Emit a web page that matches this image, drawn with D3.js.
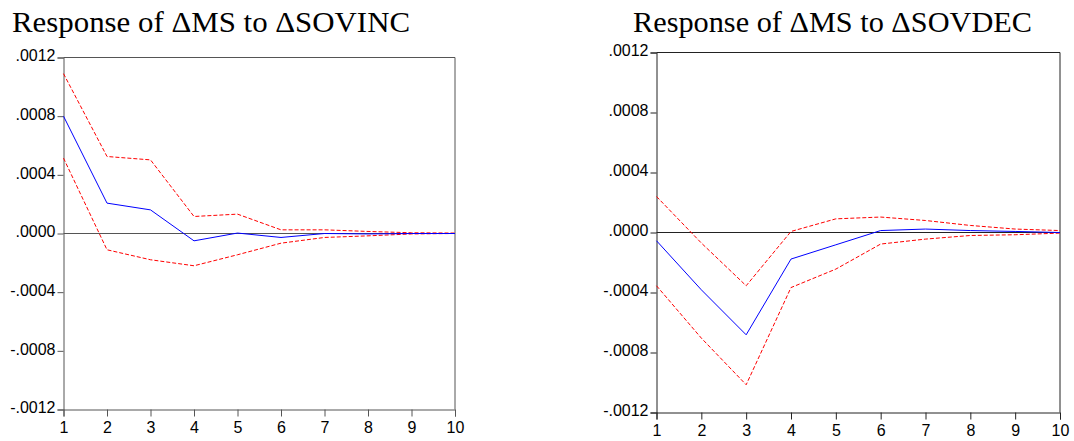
<!DOCTYPE html>
<html>
<head>
<meta charset="utf-8">
<script src="https://cdn.jsdelivr.net/npm/d3@7"></script>
<style>
  body { margin: 0; background: #fff; }
  svg { display: block; }
  .tick text { font-family: "Liberation Sans", Arial, sans-serif; font-size: 16px; fill: #000; }
  .title { font-family: "Liberation Serif", "Times New Roman", serif; font-size: 29px; fill: #000; }
</style>
</head>
<body>
<div class="container"></div>
<script>
// periods after the shock
var steps = [1, 2, 3, 4, 5, 6, 7, 8, 9, 10];
var yTicks = [-0.0012, -0.0008, -0.0004, 0, 0.0004, 0.0008, 0.0012];

// response of dMS to dSOVINC, with the +/- 2 s.e. bands
var incResp  = [0.00080, 0.000207, 0.000161, -0.000050, 0.000003, -0.000027, 0.000000, -0.000003, 0.000000, 0.000000];
var incUpper = [0.00109, 0.000525, 0.000502, 0.000116, 0.000132, 0.000025, 0.000025, 0.000014, 0.000005, 0.000003];
var incLower = [0.000514, -0.000111, -0.000179, -0.000220, -0.000145, -0.000066, -0.000027, -0.000016, -0.000003, 0.000000];

// response of dMS to dSOVDEC
var decResp  = [-0.000055, -0.000382, -0.000682, -0.000177, -0.000082, 0.000013, 0.000023, 0.000013, 0.000007, 0.000000];
var decUpper = [0.000240, -0.000070, -0.000355, 0.000007, 0.000091, 0.000103, 0.000080, 0.000047, 0.000023, 0.000013];
var decLower = [-0.000355, -0.000704, -0.001015, -0.000367, -0.000244, -0.000077, -0.000044, -0.000020, -0.000015, -0.000004];

var svg = d3.select(".container").append("svg").attr("width", 1074).attr("height", 441);

// eviews style labels: ".0008", "-.0004"
function fmt(v) {
  var s = Math.abs(v).toFixed(4).replace(/^0/, "");
  return (v < 0 ? "-" : "") + s;
}

function panel(opts) {
  var x = d3.scaleLinear().domain([1, 10]).range([opts.left, opts.right]);
  var y = d3.scaleLinear().domain([-0.0012, 0.0012]).range([opts.bottom, opts.top]);
  var g = svg.append("g");

  g.append("text").attr("class", "title")
    .attr("x", opts.titleX).attr("y", 32)
    .attr("textLength", opts.titleW).attr("lengthAdjust", "spacingAndGlyphs")
    .text(opts.title);

  // frame (top / right)
  g.append("path")
    .attr("d", "M" + opts.left + "," + opts.top + "H" + opts.right + "V" + opts.bottom)
    .attr("fill", "none").attr("stroke", opts.axisColor).attr("stroke-width", 1);

  var yAxis = g.append("g").attr("transform", "translate(" + opts.left + ",0)")
    .call(d3.axisLeft(y).tickValues(yTicks).tickFormat(fmt).tickSize(6).tickPadding(2));
  var xAxis = g.append("g").attr("transform", "translate(0," + opts.bottom + ")")
    .call(d3.axisBottom(x).tickValues(steps).tickFormat(d3.format("d")).tickSize(7).tickPadding(5));
  [yAxis, xAxis].forEach(function(a) {
    a.select(".domain").attr("stroke", opts.axisColor);
    a.selectAll(".tick line").attr("stroke", opts.axisColor);
  });
  yAxis.selectAll(".tick text").attr("dy", "0.2em");

  // zero line
  g.append("line")
    .attr("x1", opts.left).attr("x2", opts.right)
    .attr("y1", y(0)).attr("y2", y(0))
    .attr("stroke", opts.axisColor).attr("stroke-width", 1);

  var line = d3.line().x(function(d, i) { return x(steps[i]); }).y(function(d) { return y(d); });

  [opts.upper, opts.lower].forEach(function(band) {
    g.append("path").attr("d", line(band))
      .attr("fill", "none").attr("stroke", "#ff0000").attr("stroke-width", 1)
      .attr("stroke-dasharray", "4,2");
  });
  g.append("path").attr("d", line(opts.resp))
    .attr("fill", "none").attr("stroke", "#0000ff").attr("stroke-width", 1);
}

panel({
  title: "Response of \u0394MS to \u0394SOVINC", titleX: 12, titleW: 398,
  left: 63.5, right: 455, top: 57.5, bottom: 409.5,
  resp: incResp, upper: incUpper, lower: incLower, axisColor: "#555"
});

panel({
  title: "Response of \u0394MS to \u0394SOVDEC", titleX: 633, titleW: 399,
  left: 656.5, right: 1060, top: 52.5, bottom: 412.5,
  resp: decResp, upper: decUpper, lower: decLower, axisColor: "#222"
});
</script>
</body>
</html>
